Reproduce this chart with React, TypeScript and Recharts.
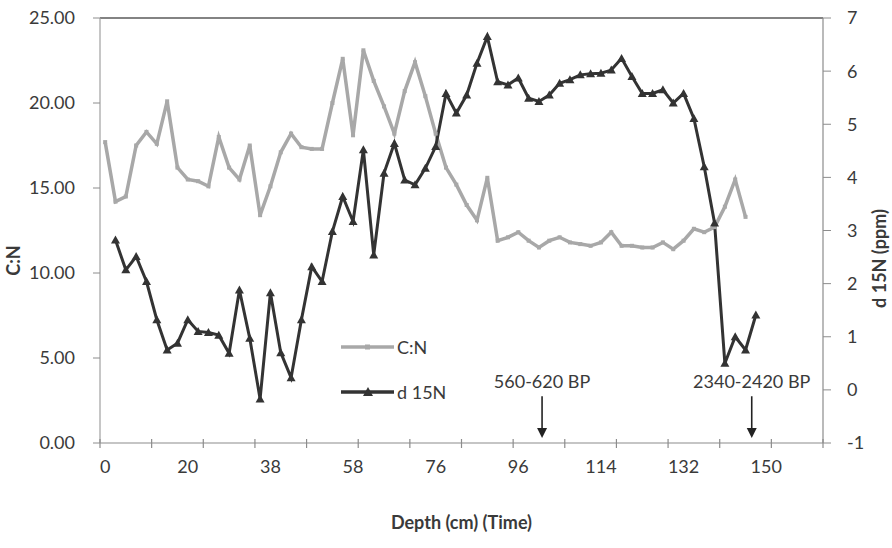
import { Label, Legend, Line, LineChart, ReferenceLine, XAxis, YAxis } from 'recharts'

// Core samples, one per slice; labels are shown on every 8th sample.
const sampleCount = 70
const labelStep = 8
const markStep = 5
const depthTicks = [0, 20, 38, 58, 76, 96, 114, 132, 150]

// C:N ratio per sample (left axis)
const cnRatio = [
  17.7, 14.2, 14.5, 17.5, 18.3, 17.6, 20.1, 16.2, 15.5, 15.4,
  15.1, 18.0, 16.2, 15.5, 17.5, 13.4, 15.1, 17.1, 18.2, 17.4,
  17.3, 17.3, 20.0, 22.6, 18.1, 23.1, 21.3, 19.8, 18.2, 20.7,
  22.4, 20.4, 18.2, 16.2, 15.2, 14.0, 13.1, 15.6, 11.9, 12.1,
  12.4, 11.9, 11.5, 11.9, 12.1, 11.8, 11.7, 11.6, 11.8, 12.4,
  11.6, 11.6, 11.5, 11.5, 11.8, 11.4, 11.9, 12.6, 12.4, 12.7,
  13.9, 15.5, 13.3,
]

// d15N per sample (right axis); the top slice has no value
const d15N = [
  null, 2.82, 2.26, 2.51, 2.04, 1.32, 0.75, 0.88, 1.32, 1.1,
  1.08, 1.03, 0.69, 1.88, 0.97, -0.17, 1.83, 0.7, 0.23, 1.32,
  2.32, 2.04, 2.98, 3.64, 3.17, 4.52, 2.54, 4.08, 4.64, 3.95,
  3.86, 4.17, 4.58, 5.58, 5.21, 5.55, 6.15, 6.65, 5.8, 5.74,
  5.87, 5.49, 5.43, 5.55, 5.77, 5.84, 5.93, 5.95, 5.96, 6.02,
  6.24, 5.9, 5.58, 5.58, 5.65, 5.4, 5.58, 5.11, 4.2, 3.14,
  0.5, 1.0, 0.75, 1.41,
]

const cnTicks = [0, 5, 10, 15, 20, 25]
const d15NTicks = [-1, 0, 1, 2, 3, 4, 5, 6, 7]

// radiocarbon dates, placed by sample position
const datedLevels = [
  { label: '560-620 BP', sample: 42.3 },
  { label: '2340-2420 BP', sample: 62.6 },
]

const rows = d15N.map((v, i) => ({
  sample: i,
  cn: i < cnRatio.length ? cnRatio[i] : null,
  d15n: v,
}))

const labelTicks = depthTicks.map((_, k) => k * labelStep)
const markTicks = Array.from(
  { length: sampleCount / markStep + 1 },
  (_, k) => k * markStep - 0.5,
)
const xTicks = [...markTicks, ...labelTicks].sort((a, b) => a - b)

const FONT = 'Lato, "Open Sans", sans-serif'
const TEXT = '#3a3a3a'
const GREY = '#a8a8a8'
const DARK = '#333333'

function DepthTick(props: any) {
  const { x, y, payload } = props
  const v = payload.value
  if (Number.isInteger(v)) {
    return (
      <text x={x} y={y + 30} textAnchor="middle" fill={TEXT} fontSize={18} fontFamily={FONT}>
        {depthTicks[v / labelStep]}
      </text>
    )
  }
  return <line x1={x} x2={x} y1={y - 4} y2={y + 5} stroke="#8c8c8c" strokeWidth={1.2} />
}

function Triangle(props: any) {
  const { cx, cy } = props
  if (cx == null || cy == null) return <g />
  return (
    <polygon
      points={`${cx},${cy - 4.5} ${cx - 4.5},${cy + 3.5} ${cx + 4.5},${cy + 3.5}`}
      fill={DARK}
    />
  )
}

function Square(props: any) {
  const { cx, cy } = props
  if (cx == null || cy == null) return <g />
  return <rect x={cx - 2} y={cy - 2} width={4} height={4} fill={GREY} />
}

function DatedArrow(props: any) {
  const { x1, y1, x2, y2, text } = props
  const top = Math.min(y1, y2)
  const tip = Math.max(y1, y2)
  return (
    <g>
      <text x={x1} y={top - 8} textAnchor="middle" fill={TEXT} fontSize={18} fontFamily={FONT}>
        {text}
      </text>
      <line x1={x1} x2={x2} y1={top} y2={tip - 8} stroke="#222" strokeWidth={1.6} />
      <polygon points={`${x1 - 5},${tip - 10} ${x1 + 5},${tip - 10} ${x1},${tip}`} fill="#222" />
    </g>
  )
}

function SeriesKey(props: any) {
  const { payload = [] } = props
  return (
    <svg width={150} height={70}>
      {payload.map((entry: any, i: number) => {
        const y = 10 + i * 45
        const isCn = entry.dataKey === 'cn'
        return (
          <g key={entry.dataKey}>
            <line x1={2} x2={55} y1={y} y2={y} stroke={entry.color} strokeWidth={3.5} />
            {isCn ? (
              <rect x={26} y={y - 2.5} width={5} height={5} fill={entry.color} />
            ) : (
              <polygon points={`${29},${y - 5} ${24},${y + 4} ${34},${y + 4}`} fill={entry.color} />
            )}
            <text
              x={58}
              y={y}
              dominantBaseline="central"
              fill={TEXT}
              fontSize={18}
              fontFamily={FONT}
            >
              {entry.value}
            </text>
          </g>
        )
      })}
    </svg>
  )
}

export default function App() {
  return (
    <div style={{ position: 'absolute', left: 0, top: 0, background: '#fff' }}>
      <LineChart
        width={892}
        height={548}
        data={rows}
        margin={{ top: 18, right: 9, bottom: 55, left: 0 }}
      >
        <XAxis
          dataKey="sample"
          type="number"
          domain={[-0.5, sampleCount - 0.5]}
          ticks={xTicks}
          interval={0}
          allowDataOverflow
          tick={<DepthTick />}
          tickLine={false}
          tickSize={0}
          tickMargin={0}
          height={50}
          axisLine={{ stroke: '#8c8c8c', strokeWidth: 1.2 }}
        >
          <Label
            content={({ viewBox }: any) => (
              <text
                x={viewBox.x + viewBox.width / 2}
                y={viewBox.y + 86}
                textAnchor="middle"
                fill={TEXT}
                fontSize={18}
                fontWeight="bold"
                fontFamily={FONT}
              >
                Depth (cm) (Time)
              </text>
            )}
          />
        </XAxis>
        <YAxis
          yAxisId="cn"
          domain={[0, 25]}
          ticks={cnTicks}
          interval={0}
          width={100}
          tickFormatter={(v: number) => v.toFixed(2)}
          tick={{ fill: TEXT, fontSize: 18, fontFamily: FONT }}
          tickSize={7}
          tickMargin={18}
          tickLine={{ stroke: '#8c8c8c' }}
          axisLine={{ stroke: '#a0a0a0', strokeWidth: 1.2 }}
        >
          <Label
            content={({ viewBox }: any) => {
              const cy = viewBox.y + viewBox.height / 2 + 30
              return (
                <text
                  x={13}
                  y={cy}
                  transform={`rotate(-90 13 ${cy})`}
                  textAnchor="middle"
                  dominantBaseline="central"
                  fill={TEXT}
                  fontSize={18}
                  fontWeight="bold"
                  fontFamily={FONT}
                >
                  C:N
                </text>
              )
            }}
          />
        </YAxis>
        <YAxis
          yAxisId="d15n"
          orientation="right"
          domain={[-1, 7]}
          ticks={d15NTicks}
          interval={0}
          width={60}
          tick={{ fill: TEXT, fontSize: 18, fontFamily: FONT }}
          tickSize={8}
          tickMargin={16}
          tickLine={{ stroke: '#8c8c8c' }}
          axisLine={{ stroke: '#8c8c8c', strokeWidth: 1.2 }}
        >
          <Label
            content={({ viewBox }: any) => {
              const cx = viewBox.x + 56
              const cy = viewBox.y + viewBox.height / 2 + 28
              return (
                <text
                  x={cx}
                  y={cy}
                  transform={`rotate(-90 ${cx} ${cy})`}
                  textAnchor="middle"
                  dominantBaseline="central"
                  fill={TEXT}
                  fontSize={18}
                  fontWeight="bold"
                  fontFamily={FONT}
                >
                  d 15N (ppm)
                </text>
              )
            }}
          />
        </YAxis>
        <ReferenceLine yAxisId="cn" y={25} stroke="#5a5a5a" strokeWidth={1.6} />
        {datedLevels.map((d) => (
          <ReferenceLine
            key={d.label}
            yAxisId="cn"
            segment={[
              { x: d.sample, y: 2.75 },
              { x: d.sample, y: 0.3 },
            ]}
            shape={(p: any) => <DatedArrow {...p} text={d.label} />}
          />
        ))}
        {/* centred/middle so the key floats over the plot without shrinking it */}
        <Legend
          layout="vertical"
          verticalAlign="middle"
          align="center"
          wrapperStyle={{ left: 339, top: 337, width: 150 }}
          content={<SeriesKey />}
        />
        <Line
          yAxisId="cn"
          dataKey="cn"
          name="C:N"
          stroke={GREY}
          strokeWidth={3.5}
          dot={<Square />}
          isAnimationActive={false}
        />
        <Line
          yAxisId="d15n"
          dataKey="d15n"
          name="d 15N"
          stroke={DARK}
          strokeWidth={3}
          dot={<Triangle />}
          isAnimationActive={false}
        />
      </LineChart>
    </div>
  )
}
